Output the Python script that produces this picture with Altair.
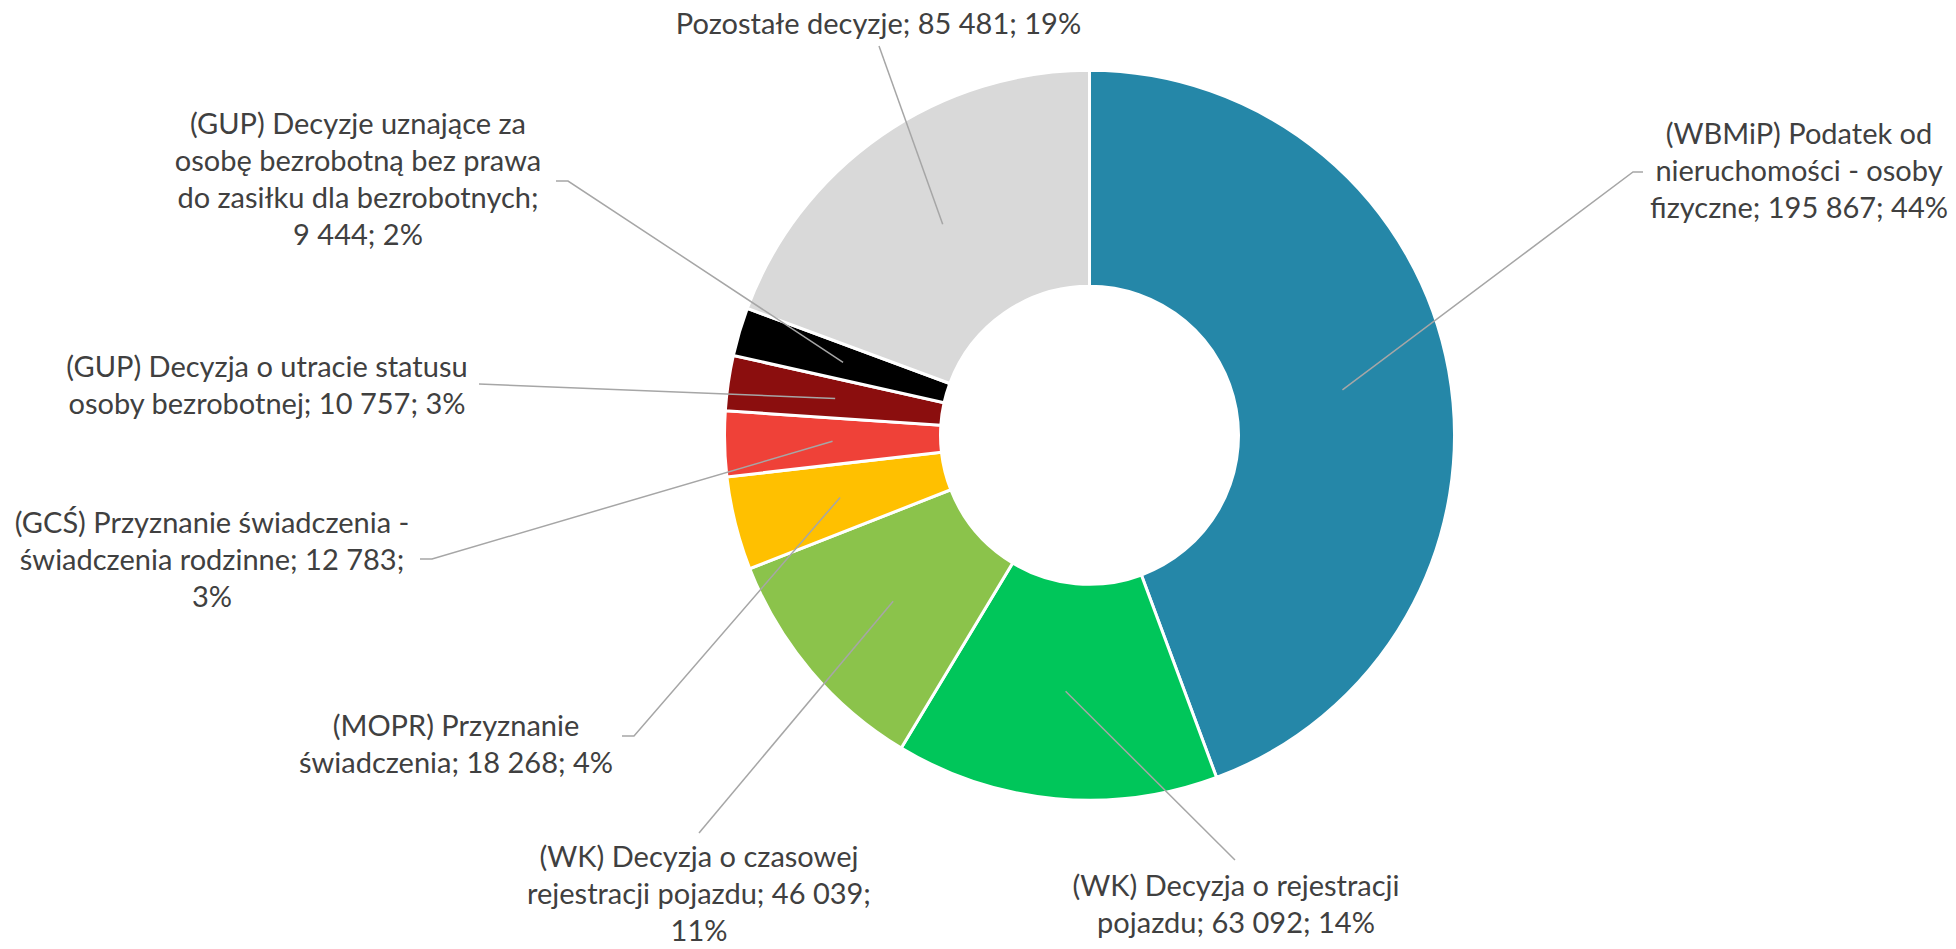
import math
import altair as alt
import pandas as pd

# ---------------- data ----------------
categories = [
    "(WBMiP) Podatek od nieruchomości - osoby fizyczne",
    "(WK) Decyzja o rejestracji pojazdu",
    "(WK) Decyzja o czasowej rejestracji pojazdu",
    "(MOPR) Przyznanie świadczenia",
    "(GCŚ) Przyznanie świadczenia - świadczenia rodzinne",
    "(GUP) Decyzja o utracie statusu osoby bezrobotnej",
    "(GUP) Decyzje uznające za osobę bezrobotną bez prawa do zasiłku dla bezrobotnych",
    "Pozostałe decyzje",
]
values = [195867, 63092, 46039, 18268, 12783, 10757, 9444, 85481]
label_texts = [
    "(WBMiP) Podatek od\nnieruchomości - osoby\nfizyczne; 195 867; 44%",
    "(WK) Decyzja o rejestracji\npojazdu; 63 092; 14%",
    "(WK) Decyzja o czasowej\nrejestracji pojazdu; 46 039;\n11%",
    "(MOPR) Przyznanie\nświadczenia; 18 268; 4%",
    "(GCŚ) Przyznanie świadczenia -\nświadczenia rodzinne; 12 783;\n3%",
    "(GUP) Decyzja o utracie statusu\nosoby bezrobotnej; 10 757; 3%",
    "(GUP) Decyzje uznające za\nosobę bezrobotną bez prawa\ndo zasiłku dla bezrobotnych;\n9 444; 2%",
    "Pozostałe decyzje; 85 481; 19%",
]

# ---------------- style / layout ----------------
colors = ["#2587A8", "#00C65A", "#8BC34B", "#FFC000", "#EF4138", "#8B0E0E", "#000000", "#D9D9D9"]
W, H = 1940, 933
CX, CY = 1081.5, 427.3
R_OUT, R_IN, R_LEADER = 365, 149, 257
FONT = "Lato"
FONT_SIZE = 29
LINE_H = 37
TEXT_COLOR = "#404040"
LEADER_COLOR = "#A6A6A6"

label_pos = [  # text centre x, first baseline y
    (1791, 136), (1228, 888), (691, 859), (448, 728),
    (204, 525), (259, 369), (350, 126), (870.5, 26),
]
leader_start = [
    (1635, 164), (1227, 852), (691, 825), (614, 728),
    (412, 551), (471, 376), (548, 173), (871, 38),
]
leader_elbow = [
    (1625, 164), (1227, 852), (691, 825), (626, 728),
    (424, 551), (471, 376), (560, 173), (871, 38),
]

# ---------------- tables ----------------
df = pd.DataFrame({"cat": categories, "value": values, "idx": list(range(len(values)))})

total = sum(values)
cum = 0
line_rows = []
for i, v in enumerate(values):
    mid = (cum + v / 2) / total * 2 * math.pi
    cum += v
    ex = CX + R_LEADER * math.sin(mid)
    ey = CY - R_LEADER * math.cos(mid)
    pts = [leader_start[i], leader_elbow[i], (ex, ey)]
    for k, (px, py) in enumerate(pts):
        line_rows.append({"lab": i, "k": k, "x": px, "y": py})
lines_df = pd.DataFrame(line_rows)

text_df = pd.DataFrame({
    "text": label_texts,
    "x": [p[0] for p in label_pos],
    "y": [p[1] for p in label_pos],
})

xs = alt.Scale(domain=[0, W], range=[0, W])
ys = alt.Scale(domain=[0, H], range=[0, H])

arcs = alt.Chart(df).mark_arc(
    outerRadius=R_OUT, innerRadius=R_IN, stroke="white", strokeWidth=3
).encode(
    theta=alt.Theta("value:Q", stack=True),
    color=alt.Color("cat:N", scale=alt.Scale(domain=categories, range=colors), legend=None),
    order=alt.Order("idx:Q", sort="ascending"),
    x=alt.value(CX),
    y=alt.value(CY),
)

leaders = alt.Chart(lines_df).mark_line(color=LEADER_COLOR, strokeWidth=1.5).encode(
    x=alt.X("x:Q", scale=xs, axis=None),
    y=alt.Y("y:Q", scale=ys, axis=None),
    detail="lab:N",
    order="k:Q",
)

texts = alt.Chart(text_df).mark_text(
    font=FONT, fontSize=FONT_SIZE, color=TEXT_COLOR, lineBreak="\n",
    lineHeight=LINE_H, align="center", baseline="alphabetic",
).encode(
    x=alt.X("x:Q", scale=xs, axis=None),
    y=alt.Y("y:Q", scale=ys, axis=None),
    text="text:N",
)

chart = alt.layer(arcs, leaders, texts).properties(
    width=W, height=H, padding=0, autosize=alt.AutoSizeParams(type="none")
).configure_view(stroke=None)

chart.save("out.html", embed_options={"renderer": "svg", "actions": False})
